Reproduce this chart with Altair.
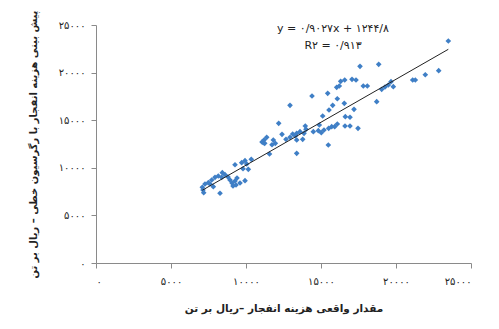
import altair as alt
import pandas as pd

# Observed (actual) blasting cost vs. regression-predicted cost (Rial per ton)
actual = [7087, 7133, 7180, 7267, 7487, 7600, 7713, 7820, 7933, 8153,
          8380, 8420, 8600, 8800, 8933, 9067, 9267, 9400, 9333, 9133,
          9600, 9933, 8267, 9267, 9713, 9933, 10047, 10153, 9800, 10353,
          11153, 11567, 11067, 11200, 11380, 11247, 11733, 11820, 11953, 12180,
          12400, 12667, 12933, 13113, 13287, 13380, 13380, 13780, 13600, 13867,
          13953, 14000, 14487, 14887, 14820, 15020, 15200, 15513, 15713, 15913,
          16087, 16600, 16933, 17467, 16620, 16933, 17200, 13380, 15487, 12933,
          14400, 15113, 15533, 15780, 15447, 16087, 16553, 16047, 16220, 16313,
          16580, 17067, 17333, 17600, 17820, 18087, 18847, 18713, 19047, 19267,
          19487, 19667, 19820, 21113, 21287, 21953, 22847, 23487]
predicted = [7952, 7668, 7384, 8298, 8435, 8298, 8718, 8015, 9002, 9138,
             9002, 9485, 9275, 9033, 8718, 8403, 8613, 8928, 8193, 8088,
             8403, 8645, 7322, 10325, 10536, 10746, 10399, 9842, 9905, 10893,
             12636, 11449, 12710, 12920, 13204, 12573, 12426, 12920, 12573, 14674,
             13519, 12994, 13204, 13550, 13340, 13624, 12920, 12994, 13792, 13624,
             14390, 14044, 13792, 14496, 13897, 13687, 13970, 14149, 14317, 14317,
             14601, 14390, 14390, 14149, 15368, 15305, 16145, 11523, 12395, 16565,
             17542, 15441, 16071, 16565, 17825, 17258, 16775, 18456, 18592, 19086,
             19222, 19296, 19222, 20662, 18592, 18592, 20872, 16943, 18246, 18487,
             18697, 19044, 18519, 19222, 19222, 19779, 20200, 23319]

# Trend line as printed on the chart
slope = 0.9027
intercept = 1244.8

tick_values = [0, 5000, 10000, 15000, 20000, 25000]
tick_labels = ["۰", "۵۰۰۰", "۱۰۰۰۰", "۱۵۰۰۰", "۲۰۰۰۰", "۲۵۰۰۰"]

ann_x = [15800, 15800]
ann_y = [24600, 22800]
ann_text = ["y = ۰/۹۰۲۷x + ۱۲۴۴/۸", "R۲ = ۰/۹۱۳"]

x_title = "مقدار واقعی هزینه انفجار –ریال بر تن"
y_title = "پیش بینی هزینه انفجار با رگرسیون خطی – ریال بر تن"

FONT = "DejaVu Sans"

label_expr = ""
for v, l in zip(tick_values, tick_labels):
    label_expr += f"datum.value == {v} ? '{l}' : "
label_expr += "''"

pts = pd.DataFrame({"actual": actual, "predicted": predicted})
xmin, xmax = min(actual), max(actual)
line = pd.DataFrame({"actual": [xmin, xmax],
                     "predicted": [slope * xmin + intercept, slope * xmax + intercept]})
ann = pd.DataFrame({"x": ann_x, "y": ann_y, "t": ann_text})

xscale = alt.Scale(domain=[0, 25000], nice=False)
yscale = alt.Scale(domain=[0, 25000], nice=False)

xaxis = alt.Axis(title=x_title, values=tick_values, labelExpr=label_expr, grid=False,
                 labelPadding=8, titlePadding=17, titleFontSize=10.5)
yaxis = alt.Axis(title=y_title, values=tick_values, labelExpr=label_expr, grid=False,
                 labelPadding=6, titlePadding=20)

scatter = alt.Chart(pts).mark_point(shape="diamond", filled=True, size=32,
                                    color="#3f7fc6", opacity=1).encode(
    x=alt.X("actual:Q", scale=xscale, axis=xaxis),
    y=alt.Y("predicted:Q", scale=yscale, axis=yaxis),
)

trend = alt.Chart(line).mark_line(color="#222222", strokeWidth=1).encode(
    x=alt.X("actual:Q", scale=xscale),
    y=alt.Y("predicted:Q", scale=yscale),
)

text = alt.Chart(ann).mark_text(font=FONT, fontSize=11, color="#222222").encode(
    x=alt.X("x:Q", scale=xscale),
    y=alt.Y("y:Q", scale=yscale),
    text="t:N",
)

chart = alt.layer(scatter, trend, text).properties(
    width=375, height=238,
    autosize=alt.AutoSizeParams(type="none"),
    padding={"left": 88, "top": 17, "right": 12, "bottom": 56},
).configure_view(stroke=None).configure_axis(
    domainColor="#8a8a8a", tickColor="#8a8a8a", tickSize=5,
    labelFont=FONT, labelFontSize=10, labelColor="#222222",
    titleFont=FONT, titleFontSize=10, titleFontWeight="bold", titleColor="#222222",
)

chart.save("out.html", embed_options={"renderer": "svg", "actions": False})
